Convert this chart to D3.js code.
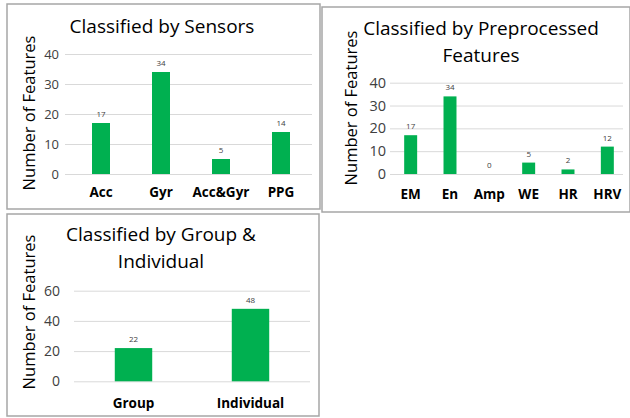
<!DOCTYPE html>
<html>
<head>
<meta charset="utf-8">
<script src="https://cdn.jsdelivr.net/npm/d3@7"></script>
<style>
  html, body { margin: 0; padding: 0; background: #fff; }
  svg { display: block; font-family: "Open Sans", Lato, sans-serif; }
</style>
</head>
<body>
<svg id="chart" width="630" height="418"></svg>
<script>
// Feature counts, grouped three ways
const sensorCategories = ["Acc", "Gyr", "Acc&Gyr", "PPG"];
const sensorValues = [17, 34, 5, 14];
const sensorTicks = [0, 10, 20, 30, 40];

const featureCategories = ["EM", "En", "Amp", "WE", "HR", "HRV"];
const featureValues = [17, 34, 0, 5, 2, 12];
const featureTicks = [0, 10, 20, 30, 40];

const groupCategories = ["Group", "Individual"];
const groupValues = [22, 48];
const groupTicks = [0, 20, 40, 60];

const yAxisTitle = "Number of Features";

const svg = d3.select("#chart");

const panels = [
  {
    title: ["Classified by Sensors"],
    categories: sensorCategories, values: sensorValues, ticks: sensorTicks,
    box: [7, 4, 320, 209],
    titleX: 162, titleY: 33,
    plotX: [71, 311], gridX: [65, 312], plotY: [174, 54],
    tickPad: 6, tickSize: 13, padding: 0.7, catY: 197, yTitle: [28, 113]
  },
  {
    title: ["Classified by Preprocessed", "Features"],
    categories: featureCategories, values: featureValues, ticks: featureTicks,
    box: [322, 7, 630, 212],
    titleX: 481, titleY: 35,
    plotX: [391, 627], gridX: [390, 623], plotY: [174, 82.7],
    tickPad: 4, tickSize: 14.5, padding: 0.67, catY: 199, yTitle: [350, 108]
  },
  {
    title: ["Classified by Group &", "Individual"],
    categories: groupCategories, values: groupValues, ticks: groupTicks,
    box: [7, 214, 319, 416],
    titleX: 161, titleY: 241,
    plotX: [75, 309], gridX: [74, 310], plotY: [381.3, 290.7],
    tickPad: 14, tickSize: 14, padding: 0.68, catY: 408, yTitle: [28, 312]
  }
];

panels.forEach(p => {
  const g = svg.append("g");

  // panel frame
  g.append("rect")
    .attr("x", p.box[0]).attr("y", p.box[1])
    .attr("width", p.box[2] - p.box[0]).attr("height", p.box[3] - p.box[1])
    .attr("fill", "#fff").attr("stroke", "#a6a6a6").attr("stroke-width", 1.5);

  // title
  const title = g.append("text")
    .attr("x", p.titleX).attr("y", p.titleY)
    .attr("text-anchor", "middle")
    .attr("font-size", 19).attr("fill", "#000");
  p.title.forEach((line, i) => {
    title.append("tspan").attr("x", p.titleX).attr("dy", i === 0 ? 0 : 27).text(line);
  });

  // bands centred in equal slots: outer padding is half the inner gap
  const x = d3.scaleBand().domain(p.categories).range(p.plotX)
    .paddingInner(p.padding).paddingOuter(p.padding / 2);
  const y = d3.scaleLinear()
    .domain([p.ticks[0], p.ticks[p.ticks.length - 1]])
    .range(p.plotY);

  // gridlines and value axis
  const axis = g.append("g")
    .attr("transform", `translate(${p.gridX[0]},0)`)
    .call(d3.axisLeft(y).tickValues(p.ticks)
      .tickSizeInner(-(p.gridX[1] - p.gridX[0])).tickSizeOuter(0)
      .tickPadding(p.tickPad));
  axis.select(".domain").remove();
  axis.selectAll(".tick line").attr("stroke", "#d9d9d9").attr("stroke-width", 1);
  axis.selectAll(".tick text")
    .attr("font-family", "'Open Sans', sans-serif")
    .attr("font-size", p.tickSize).attr("fill", "#404040");

  // bars
  g.selectAll("rect.bar")
    .data(p.values)
    .join("rect")
    .attr("class", "bar")
    .attr("x", (d, i) => x(p.categories[i]))
    .attr("width", x.bandwidth())
    .attr("y", d => y(d))
    .attr("height", d => y(0) - y(d))
    .attr("fill", "#00b050");

  // value labels
  g.selectAll("text.val")
    .data(p.values)
    .join("text")
    .attr("class", "val")
    .attr("x", (d, i) => x(p.categories[i]) + x.bandwidth() / 2)
    .attr("y", d => y(d) - 6)
    .attr("text-anchor", "middle")
    .attr("font-size", 8).attr("fill", "#404040")
    .text(d => d);

  // category labels
  g.selectAll("text.cat")
    .data(p.categories)
    .join("text")
    .attr("class", "cat")
    .attr("x", d => x(d) + x.bandwidth() / 2)
    .attr("y", p.catY)
    .attr("text-anchor", "middle")
    .attr("font-size", 13.5).attr("font-weight", "bold").attr("fill", "#000")
    .text(d => d);

  // value axis title
  g.append("text")
    .attr("transform", `translate(${p.yTitle[0]},${p.yTitle[1]}) rotate(-90)`)
    .attr("text-anchor", "middle")
    .attr("dominant-baseline", "central")
    .attr("font-size", 16.5).attr("fill", "#000")
    .text(yAxisTitle);
});
</script>
</body>
</html>
